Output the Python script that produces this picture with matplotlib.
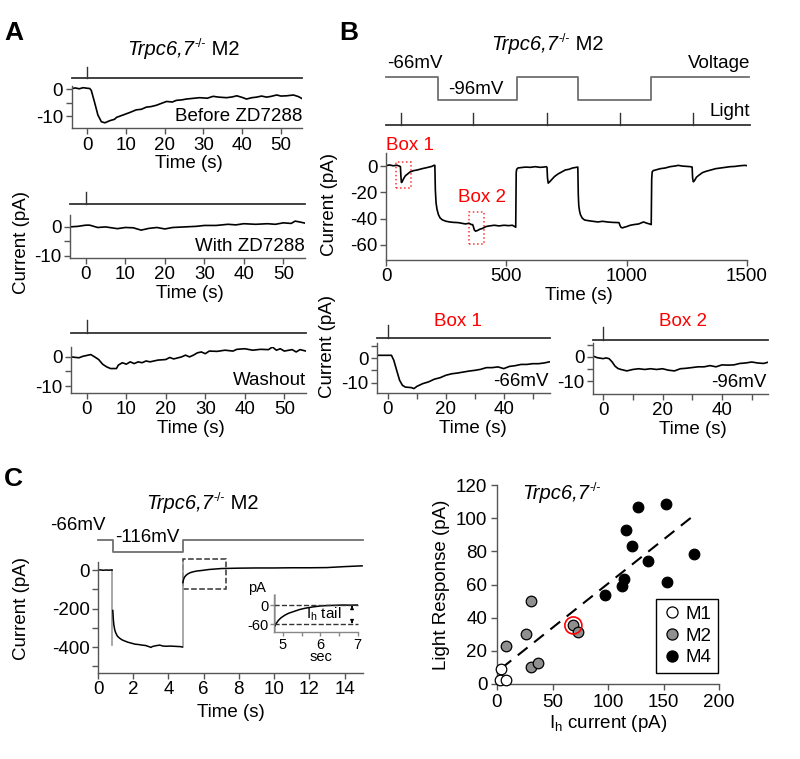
import matplotlib
matplotlib.use('Agg')
import matplotlib.pyplot as plt
from matplotlib.patches import Rectangle
from matplotlib.lines import Line2D

plt.rcParams['font.family'] = ['Liberation Sans', 'DejaVu Sans']
plt.rcParams['mathtext.fontset'] = 'custom'
plt.rcParams['mathtext.rm'] = 'Liberation Sans'
plt.rcParams['mathtext.it'] = 'Liberation Sans:italic'
plt.rcParams['mathtext.bf'] = 'Liberation Sans:bold'
plt.rcParams['axes.unicode_minus'] = False

FS = 13.5
SFS = 10.5
SP = '#555555'

# ------------------------- DATA -------------------------
# Panel A traces (time s, current pA)
A1_trace = [(-3.9, 0.2), (-3, 0.4), (-2, 0.1), (-1, 0.5), (0, 0.3), (0.7, 0.2), (1.1, -0.5), (2, -5.2),
            (2.8, -9.6), (3.7, -12.1), (4.6, -12.5), (5.9, -11.7), (7.1, -11.2), (7.6, -10.5), (9.3, -9.6),
            (11, -8.7), (12.7, -7.7), (14, -7.5), (15.3, -6.7), (16.5, -6.5), (17.9, -6.0), (19, -5.4),
            (20.5, -4.6), (22, -4.8), (23, -4.2), (24.5, -4.0), (25.6, -3.7), (27, -3.5), (29, -3.2),
            (31, -3.4), (32.5, -2.7), (34, -3.0), (36, -3.2), (37.5, -2.9), (38.6, -2.5), (40, -3.1),
            (41.1, -3.7), (42.5, -3.2), (43.7, -3.0), (45, -2.6), (46.3, -3.0), (47.5, -2.7), (48.9, -2.2),
            (50, -2.6), (51.5, -2.5), (53.2, -2.2), (54.5, -2.8), (55.4, -3.5)]
A2_trace = [(-4, 0), (-3, 0.1), (-2, 0.2), (-1, 0.4), (0, 0.6), (1, 0.6), (2, 0.2), (3, -0.2), (5, 0),
            (6.5, -0.3), (8, -0.6), (10, -0.2), (12, -0.3), (14, -1.1), (16, -0.5), (18, -0.2), (20, -0.7),
            (22, -0.2), (25, 0), (28, 0.2), (30, 0.5), (33, 0.5), (36, 0.9), (38, 0.7), (40, 1.1), (43, 0.9),
            (46, 1.1), (48, 0.9), (50, 1.4), (52, 1.2), (53, 2.0), (54.5, 1.6), (55.5, 1.3)]
A3_trace = [(-4, 0), (-2, -0.3), (-1, 0.2), (1, 0.8), (2, 0), (3, -0.9), (4, -2.5), (5, -3.4), (6, -4),
            (7.5, -4), (8, -2.8), (9, -2), (10, -2.5), (11, -1.7), (12, -2.3), (13, -1.7), (14, -2.0),
            (15, -1.4), (16, -1.7), (18, -1.1), (20, -0.9), (21, -0.2), (22, -0.7), (24, 0), (25, 0.6),
            (26, 0), (27, 0.6), (28, 1.4), (29, 1.7), (30, 1.1), (31, 2.0), (33, 1.9), (35, 2.3), (37, 2.0),
            (38, 2.6), (40, 2.8), (42, 2.3), (44, 2.6), (46, 2.5), (47, 3.4), (48, 2.3), (49, 2.8), (50, 2.0),
            (52, 2.5), (53, 1.7), (54, 2.5), (55.5, 2.0)]
A_light = [0]

# Panel B main recording (time s, current pA)
B_trace = [(0, 0.3), (15, 0.8), (30, 0.2), (45, 0.6), (55, 0.0), (60, -0.5), (62, -8), (64, -12.5), (67, -12),
           (72, -10), (80, -7.5), (90, -6), (100, -4.5), (115, -3.5), (130, -3), (150, -2), (170, -1.2),
           (190, -0.3), (200, 0.6), (203, 0.5), (205, -18), (208, -28), (212, -33), (218, -37), (225, -39.5),
           (235, -41), (250, -42), (265, -42.5), (280, -42.8), (300, -43), (315, -43.5), (330, -44),
           (345, -43.5), (355, -44.5), (360, -44.5), (363, -46), (367, -48.5), (372, -49.5), (380, -49),
           (390, -48), (400, -47.5), (415, -46), (430, -45.5), (450, -45), (470, -45.5), (490, -45),
           (510, -45.3), (525, -45), (535, -46), (539, -46.5), (541, -5), (543, -2.5), (548, -1.5),
           (560, -1.2), (580, -0.8), (600, -1), (620, -0.5), (640, -1), (655, -0.8), (666, -0.5), (669, -1),
           (671, -9), (674, -13), (680, -12), (690, -10), (700, -8), (715, -6), (730, -4.5), (745, -3),
           (760, -2.5), (775, -1.5), (790, -1), (797, -0.8), (799, -22), (801, -30), (804, -34), (808, -37),
           (815, -39.5), (825, -41), (840, -41.5), (860, -42), (880, -42.5), (900, -42), (920, -42.5),
           (940, -42.8), (960, -43), (968, -43), (972, -45), (976, -46.5), (982, -47), (990, -46.5),
           (1000, -46), (1015, -45), (1030, -44.5), (1050, -44), (1070, -42.5), (1085, -43.5), (1095, -44),
           (1102, -44.5), (1104, -10), (1106, -4.5), (1110, -3.5), (1120, -3), (1140, -2), (1160, -1.5),
           (1180, -0.5), (1200, 0), (1215, 0.5), (1230, 0), (1250, -0.3), (1265, -0.5), (1272, -0.8),
           (1274, -9), (1277, -12), (1282, -11), (1290, -8.5), (1300, -7), (1315, -5), (1330, -4),
           (1350, -3), (1370, -2), (1390, -1.5), (1410, -1), (1430, -0.5), (1450, -0.3), (1470, 0.2),
           (1490, 0.5), (1500, 0.3)]
B_volt_t = [0, 214, 214, 543, 543, 798, 798, 1102, 1102, 1510]
B_volt_v = [-66, -66, -96, -96, -66, -66, -96, -96, -66, -66]
B_light = [62, 361, 669, 972, 1275]
B_box1 = (40, -17, 105, 3.4)      # t0, i0, t1, i1
B_box2 = (345, -59.5, 407, -35)

Box1_trace = [(-3.8, 1.1), (1.2, 1.1), (2, -0.9), (3, -5), (4, -9), (5, -11.1), (6, -11.8), (8, -12),
              (9, -12.4), (10, -11.5), (12, -10.4), (14, -9.7), (16, -8.6), (18, -8), (20, -7), (22, -6.4),
              (24, -6.1), (26, -5.7), (28, -5.3), (30, -5), (32, -4.6), (34, -3.9), (36, -3.9), (38, -3.6),
              (40, -4.3), (42, -3.4), (44, -3.1), (46, -2.6), (48, -2.6), (50, -2.3), (52, -2.3), (54, -2.0),
              (56, -1.5)]
Box2_trace = [(-3.4, 0.4), (-2, -0.3), (0, -0.7), (1, -0.4), (2, -0.7), (3, -2), (4, -3.8), (5, -4.8),
              (6, -5.2), (8, -5.8), (10, -5.2), (12, -4.9), (14, -5.2), (16, -4.9), (18, -5.2), (20, -4.9),
              (22, -5.5), (24, -5.8), (26, -4.9), (28, -4.7), (30, -4.4), (32, -4.1), (34, -4.1), (36, -3.6),
              (38, -4.1), (40, -3.3), (42, -3.4), (44, -3.3), (46, -2.7), (48, -2.5), (50, -2.1), (52, -2.5),
              (54, -2.7), (55.5, -2.2)]

# Panel C Ih protocol (time s, current pA)
C_pre = [(0, 0), (0.15, 1), (0.3, -1), (0.45, 0.5), (0.6, -0.5), (0.75, 0.5), (0.8, 0)]
C_hyp = [(0.84, -210), (0.87, -255), (0.9, -285), (0.95, -310), (1.0, -325), (1.1, -343), (1.2, -352),
         (1.35, -362), (1.5, -368), (1.7, -375), (1.9, -380), (2.1, -385), (2.3, -387), (2.5, -390),
         (2.7, -392), (2.9, -398), (3.0, -402), (3.1, -397), (3.3, -393), (3.5, -390), (3.7, -395),
         (3.9, -396), (4.1, -395), (4.3, -396), (4.5, -397), (4.7, -398), (4.78, -400)]
C_tail = [(4.82, -65), (4.86, -48), (4.92, -36), (5.0, -27), (5.1, -20), (5.25, -13), (5.4, -9), (5.6, -5),
          (5.9, -2), (6.3, 3), (7, 8), (8, 10), (9, 11), (10, 11), (11, 12), (12, 12), (13, 13), (14, 18),
          (14.5, 20), (15, 22)]
C_step1 = [(0.82, 0), (0.82, -390)]
C_step2 = [(4.8, -400), (4.8, 42)]
C_volt_t = [0, 0.85, 0.85, 4.8, 4.8, 15.05]
C_volt_v = [-66, -66, -116, -116, -66, -66]
C_box = (4.8, -100, 7.25, 55)
C_inset = [(4.78, -66), (4.82, -58), (4.88, -48), (4.95, -40), (5.05, -32), (5.15, -26), (5.3, -20),
           (5.45, -14), (5.6, -10), (5.8, -6), (6.0, -3), (6.2, -1.5), (6.4, -1), (6.6, 0), (6.8, -0.5),
           (7.0, 0)]

# Scatter: Ih current vs light response (pA)
M1_x = [3.6, 2.7, 8.1]
M1_y = [9.0, 2.4, 2.4]
M2_x = [8.1, 30.6, 26.1, 30.3, 37.2, 68.8, 73.3]
M2_y = [22.9, 49.8, 30.3, 10.4, 12.7, 35.3, 31.1]
M4_x = [97.3, 112.9, 114.4, 116.2, 121.9, 127.0, 135.7, 152.6, 152.9, 177.5]
M4_y = [53.6, 59.0, 63.1, 92.8, 83.5, 106.8, 74.1, 108.4, 61.8, 78.1]
highlight = (68.8, 35.3)
fit_x = [4, 178]
fit_y = [9.5, 102]

# ------------------------- FIGURE -------------------------
W, H = 800, 759
fig = plt.figure(figsize=(W / 100, H / 100), dpi=100)
renderer = fig.canvas.get_renderer()


def add_ax(l, t, r, b):
    return fig.add_axes([l / W, 1 - b / H, (r - l) / W, (b - t) / H])


def ftext(x, y, s, **kw):
    kw.setdefault('fontsize', FS)
    return fig.text(x / W, 1 - y / H, s, **kw)


def genotype(x, y, tail=' M2', align='center', fs=14.5):
    """Italic 'Trpc6,7' + small superscript '-/-' + upright tail; (x, y) in pixels, y = text middle."""
    fpx = fs * 100 / 72
    base = y + 0.36 * fpx
    pieces = [('Trpc6,7', dict(fontsize=fs, style='italic'), 0.0),
              ('-/-', dict(fontsize=fs * 0.6), 0.42 * fpx),
              (tail, dict(fontsize=fs), 0.0)]
    objs, widths = [], []
    for s, kw, rise in pieces:
        if not s:
            continue
        t = fig.text(0, 0, s, va='baseline', ha='left', **kw)
        widths.append(t.get_window_extent(renderer).width)
        objs.append((t, rise))
    total = sum(widths)
    x0 = x - total / 2 if align == 'center' else x
    for (t, rise), w in zip(objs, widths):
        t.set_position((x0 / W, 1 - (base - rise) / H))
        x0 += w + 0.5


def style(ax, fs=FS, color=SP):
    for s in ['top', 'right']:
        ax.spines[s].set_visible(False)
    for s in ['left', 'bottom']:
        ax.spines[s].set_color(color)
        ax.spines[s].set_linewidth(1.0)
    ax.tick_params(which='both', direction='out', color=color, width=1.0, length=4,
                   labelsize=fs, pad=2)
    ax.patch.set_alpha(0)


def unz(pairs):
    return [p[0] for p in pairs], [p[1] for p in pairs]


def light_bar(l, t, r, b, xlim, times):
    ax = add_ax(l, t, r, b)
    ax.set_xlim(*xlim)
    ax.set_ylim(0, 1)
    ax.axis('off')
    ax.plot(xlim, [0, 0], color='#333333', lw=1.3, clip_on=False)
    for tt in times:
        ax.plot([tt, tt], [0, 1], color='#333333', lw=1.0, clip_on=False)
    return ax


# ---- Panel letters ----
ftext(14, 33, 'A', fontsize=19, fontweight='bold', ha='center', va='center')
ftext(349, 33, 'B', fontsize=19, fontweight='bold', ha='center', va='center')
ftext(13, 479, 'C', fontsize=19, fontweight='bold', ha='center', va='center')

# ---- Panel A ----
genotype(183, 48)
A_specs = [
    (A1_trace, (71.5, 85.8, 302.3, 128.2), (-14.5, 1.2), (71.5, 67, 302.3, 78), 'Before ZD7288', 0.28),
    (A2_trace, (70, 215, 305, 258), (-10.7, 4.1), (70, 192, 305, 204), 'With ZD7288', 0.26),
    (A3_trace, (71, 347, 306, 393), (-12.4, 3.4), (71, 320, 306, 333), 'Washout', 0.28),
]
for trace, box, ylim, lbox, lab, ly in A_specs:
    light_bar(*lbox, (-4, 55.5), A_light)
    ax = add_ax(*box)
    t, i = unz(trace)
    ax.plot(t, i, color='k', lw=1.2)
    ax.set_xlim(-4, 55.5)
    ax.set_ylim(*ylim)
    ax.set_yticks([0, -10])
    ax.set_yticks([-5], minor=True)
    ax.set_xticks([0, 10, 20, 30, 40, 50])
    style(ax)
    ax.set_xlabel('Time (s)', fontsize=FS, labelpad=1)
    ax.xaxis.label.set_x(0.51)
    ax.text(1.0, ly, lab, transform=ax.transAxes, ha='right', va='center', fontsize=FS)
ftext(22, 242, 'Current (pA)', rotation=90, ha='center', va='center')

# ---- Panel B ----
genotype(547, 43)
axV = add_ax(386, 70, 747, 105)
axV.set_xlim(0, 1500)
axV.set_ylim(-102.52, -56.87)
axV.axis('off')
axV.plot(B_volt_t, B_volt_v, color='#707070', lw=1.3, clip_on=False)
ftext(387, 63, '-66mV', ha='left', va='center')
ftext(448, 89, '-96mV', ha='left', va='center')
ftext(750, 63, 'Voltage', ha='right', va='center')
light_bar(386, 113, 750, 125, (0, 1512), B_light)
ftext(750, 112, 'Light', ha='right', va='center')

axB = add_ax(386, 153, 747, 260)
t, i = unz(B_trace)
axB.plot(t, i, color='k', lw=1.2)
axB.set_xlim(0, 1500)
axB.set_ylim(-71.4, 9.9)
axB.set_xticks([0, 500, 1000, 1500])
axB.set_yticks([0, -20, -40, -60])
style(axB)
axB.set_xlabel('Time (s)', fontsize=FS, labelpad=1)
axB.xaxis.label.set_x(0.535)
for (t0, i0, t1, i1) in [B_box1, B_box2]:
    axB.add_patch(Rectangle((t0, i0), t1 - t0, i1 - i0, fill=False, edgecolor='#ff3333',
                            linestyle=':', lw=1.1, clip_on=False))
ftext(386, 145, 'Box 1', color='red', ha='left', va='center')
ftext(458, 198, 'Box 2', color='red', ha='left', va='center')
ftext(329, 205, 'Current (pA)', rotation=90, ha='center', va='center')

box_specs = [
    (Box1_trace, (377, 343, 550, 393), (-3.8, 56), (-14.2, 6.1), (377, 325, 550, 338), 'Box 1', 458, '-66mV', 0.22, 0.555),
    (Box2_trace, (593, 343, 768, 394), (-3.4, 55.5), (-15.4, 5.8), (593, 327, 768, 340), 'Box 2', 683, '-96mV', 0.235, 0.571),
]
for trace, box, xlim, ylim, lbox, name, nx, vlab, vy, lx in box_specs:
    light_bar(*lbox, xlim, [0])
    ax = add_ax(*box)
    t, i = unz(trace)
    ax.plot(t, i, color='k', lw=1.2)
    ax.set_xlim(*xlim)
    ax.set_ylim(*ylim)
    ax.set_yticks([0, -10])
    ax.set_yticks([5, -5], minor=True)
    ax.set_xticks([0, 20, 40])
    ax.set_xticks([10, 30, 50], minor=True)
    style(ax)
    ax.set_xlabel('Time (s)', fontsize=FS, labelpad=1)
    ax.xaxis.label.set_x(lx)
    ax.text(0.99, vy, vlab, transform=ax.transAxes, ha='right', va='center', fontsize=FS)
    ftext(nx, 321, name, color='red', ha='center', va='center')
ftext(328, 347, 'Current (pA)', rotation=90, ha='center', va='center')

# ---- Panel C (left) ----
genotype(202, 502)
axCV = add_ax(98, 534, 363, 558)
axCV.set_xlim(0, 15.05)
axCV.set_ylim(-141, -41)
axCV.axis('off')
axCV.plot(C_volt_t, C_volt_v, color='#707070', lw=1.3, clip_on=False)
ftext(50, 525, '-66mV', ha='left', va='center')
ftext(115, 537, '-116mV', ha='left', va='center')

axC = add_ax(98, 562, 363, 673)
for seg in [C_step1, C_step2]:
    t, i = unz(seg)
    axC.plot(t, i, color='#999999', lw=1.2, clip_on=False)
for seg in [C_pre, C_hyp, C_tail]:
    t, i = unz(seg)
    axC.plot(t, i, color='k', lw=1.1)
axC.add_patch(Rectangle((C_box[0], C_box[1]), C_box[2] - C_box[0], C_box[3] - C_box[1],
                        fill=False, edgecolor='#333333', linestyle='--', lw=1.1, clip_on=False))
axC.set_xlim(0, 15.05)
axC.set_ylim(-535, 42)
axC.set_xticks([0, 2, 4, 6, 8, 10, 12, 14])
axC.set_yticks([0, -200, -400])
axC.set_yticks([-100, -300, -500], minor=True)
style(axC)
axC.set_xlabel('Time (s)', fontsize=FS, labelpad=4)
ftext(22, 608, 'Current (pA)', rotation=90, ha='center', va='center')

axI = add_ax(274, 595, 358, 632)
axI.plot([4.78, 4.78], [-85, 31], color='#aaaaaa', lw=1.2, clip_on=False)
t, i = unz(C_inset)
axI.plot(t, i, color='k', lw=1.1)
axI.plot([4.76, 7.01], [0, 0], color='#333333', lw=1.0, linestyle='--', clip_on=False)
axI.plot([4.76, 7.01], [-60, -60], color='#333333', lw=1.0, linestyle='--', clip_on=False)
axI.annotate('', xy=(6.85, -2), xytext=(6.85, -14),
             arrowprops=dict(arrowstyle='-|>', color='k', lw=0.8, mutation_scale=5))
axI.annotate('', xy=(6.85, -58), xytext=(6.85, -46),
             arrowprops=dict(arrowstyle='-|>', color='k', lw=0.8, mutation_scale=5))
axI.set_xlim(4.76, 7.01)
axI.set_ylim(-85, 31.6)
axI.set_xticks([5, 6, 7])
axI.set_xticks([5.5, 6.5], minor=True)
axI.set_yticks([0, -60])
style(axI, fs=SFS, color='#888888')
axI.tick_params(which='both', length=3, pad=1)
axI.text(6.1, -30, r'I$_\mathrm{h}$ tail', ha='center', va='center', fontsize=SFS + 0.5)
ftext(257, 588, 'pA', fontsize=SFS, ha='center', va='center')
ftext(321, 657, 'sec', fontsize=SFS, ha='center', va='center')

# ---- Panel C (right): scatter ----
axS = add_ax(497, 485, 719, 684)
axS.plot(fit_x, fit_y, color='k', lw=1.5, dashes=(6, 4))
kw = dict(s=58, edgecolors='k', linewidths=0.9, clip_on=False, zorder=3)
axS.scatter(M1_x, M1_y, facecolors='white', **kw)
axS.scatter(M2_x, M2_y, facecolors='#8f8f8f', **kw)
axS.scatter(M4_x, M4_y, facecolors='black', **kw)
axS.scatter([highlight[0]], [highlight[1]], s=150, facecolors='none', edgecolors='red',
            linewidths=1.2, clip_on=False, zorder=4)
axS.set_xlim(0, 200)
axS.set_ylim(0, 120)
axS.set_xticks([0, 50, 100, 150, 200])
axS.set_yticks([0, 20, 40, 60, 80, 100, 120])
style(axS)
axS.tick_params(pad=3)
axS.set_xlabel(r'I$_\mathrm{h}$ current (pA)', fontsize=FS, labelpad=2)
axS.set_ylabel('Light Response (pA)', fontsize=FS, labelpad=4)
genotype(522, 492, tail='', align='left')
handles = [Line2D([], [], marker='o', ls='none', markersize=8, markerfacecolor=c, markeredgecolor='k',
                  markeredgewidth=0.9) for c in ['white', '#8f8f8f', 'black']]
leg = axS.legend(handles, ['M1', 'M2', 'M4'], loc='lower left', bbox_to_anchor=(656 / W, 1 - 673 / H),
                 bbox_transform=fig.transFigure, frameon=True, fancybox=False, edgecolor='black',
                 framealpha=1, fontsize=FS, borderpad=0.35, handletextpad=0.2, labelspacing=0.25,
                 handlelength=1.0, borderaxespad=0)
leg.get_frame().set_linewidth(1.0)

fig.savefig('out.png', dpi=100)
